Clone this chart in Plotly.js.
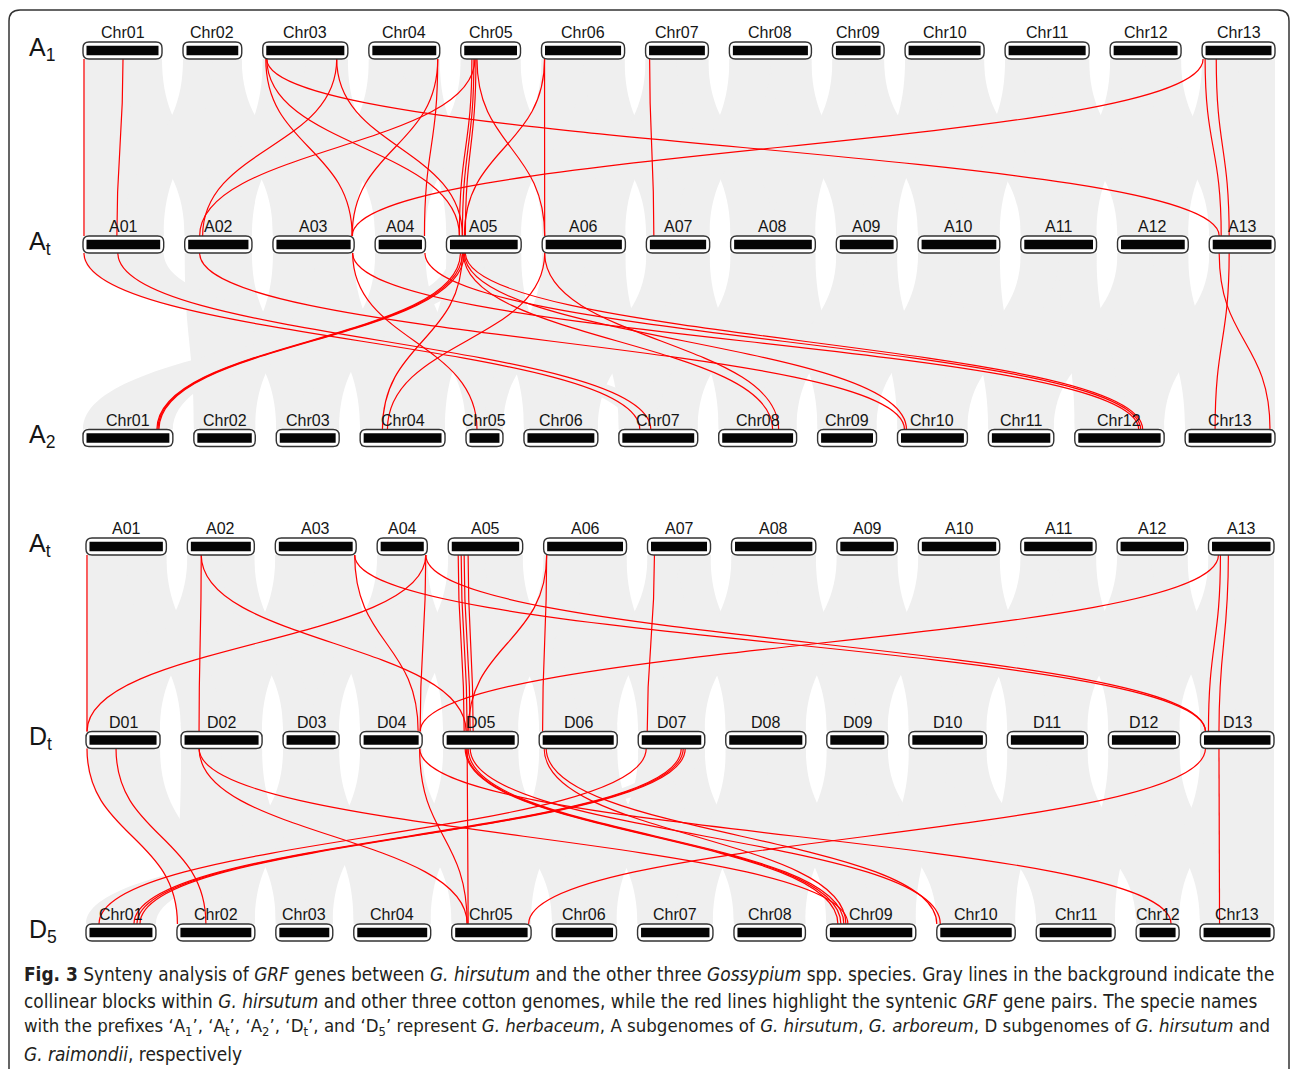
<!DOCTYPE html>
<html>
<head>
<meta charset="utf-8">
<script src="https://cdn.plot.ly/plotly-3.0.1.min.js"></script>
<style>html,body{margin:0;padding:0;background:#fff;}#chart{width:1290px;height:1069px;}</style>
</head>
<body>
<div id="chart"></div>
<script>
// ---------------- DATA ----------------
const chrNamesChr = ['Chr01','Chr02','Chr03','Chr04','Chr05','Chr06','Chr07','Chr08','Chr09','Chr10','Chr11','Chr12','Chr13'];
const chrNamesAt = ['A01','A02','A03','A04','A05','A06','A07','A08','A09','A10','A11','A12','A13'];
const chrNamesDt = ['D01','D02','D03','D04','D05','D06','D07','D08','D09','D10','D11','D12','D13'];

// relative chromosome lengths
const lenA1 = [78, 58, 84, 70, 59, 82, 62, 81, 51, 78, 83, 70, 72];
const lenAt = [81, 67.5, 81.5, 50.5, 75, 83.5, 63.5, 85, 61, 82, 76, 71, 66];
const lenA2 = [90, 61.5, 63, 85, 37, 74, 79, 78, 59, 70, 65.5, 89.5, 90];
const lenDt = [74, 81, 56, 62, 75, 78, 66.5, 80, 61, 77.5, 80, 71, 73.5];
const lenD5 = [70, 78, 57, 77, 79.5, 64.5, 75.5, 71.5, 89.5, 78.5, 79, 43, 74];

const genomeMain = ['A', 'A', 'A', 'A', 'D', 'D'];
const genomeSub = ['1', 't', '2', 't', 't', '5'];

// syntenic GRF gene pairs: [top chr, position on top chr, bottom chr, position on bottom chr]
const linksA1At = [
  [1,1, 1,1], [1,39.5, 1,34], [3,3, 3,79.5], [3,4, 5,13], [3,4, 13,10],
  [3,73, 2,18], [3,73, 5,16], [4,68, 4,49.5], [4,68, 3,79.5], [5,14, 2,15],
  [5,11, 5,13], [5,13, 5,16], [5,15, 5,19], [5,16, 6,2.5], [6,3, 6,2.5],
  [6,3, 5,18], [7,4, 7,7.5], [13,1, 3,79.5], [13,3, 13,12], [13,14, 13,20]
];
const linksAtA2 = [
  [1,1, 7,21], [1,35, 7,32], [2,15, 10,7], [3,80, 5,11], [3,80, 12,64],
  [4,50, 12,66], [5,14, 1,74], [5,16, 1,75], [5,18, 1,76], [5,16, 4,22.3],
  [5,17, 8,54], [5,18, 10,9], [5,19, 12,68], [6,2.5, 4,27.3], [6,2.5, 8,60],
  [13,10, 13,85], [13,20, 13,30]
];
const linksAtDt = [
  [1,1, 1,1], [2,14, 2,18], [2,14, 5,23], [3,80, 13,5], [3,80, 4,58],
  [4,49, 1,1], [4,49, 4,60], [4,49, 13,5], [5,10, 5,21], [5,13, 5,24],
  [5,16, 5,27], [5,20, 5,30], [6,3, 5,25], [6,3, 6,3.4], [7,7, 7,9],
  [13,10, 4,60], [13,12, 13,8], [13,20, 13,18.5]
];
const linksDtD5 = [
  [1,1, 2,0.5], [1,30, 2,29], [2,18, 5,15.5], [2,18, 9,21.5], [4,59.5, 5,15.5],
  [4,59.5, 12,35], [5,24, 5,16.5], [5,22, 9,11.5], [5,23, 9,14.5], [5,25, 9,17.5],
  [5,27, 10,3.5], [6,5, 9,19.5], [6,7, 10,0], [7,8, 1,13], [7,43, 1,48],
  [7,45, 1,51], [7,47, 1,54], [13,5, 5,77], [13,18.5, 13,19.5]
];

// collinear blocks (background): [top chr, from, to, bottom chr, from, to] (fractions of chromosome)
const blocksOrtho = [
  [1,0,1,1,0,1],[2,0,1,2,0,1],[3,0,1,3,0,1],[4,0,1,4,0,1],[5,0,1,5,0,1],[6,0,1,6,0,1],[7,0,1,7,0,1],
  [8,0,1,8,0,1],[9,0,1,9,0,1],[10,0,1,10,0,1],[11,0,1,11,0,1],[12,0,1,12,0,1],[13,0,1,13,0,1]
];
const blocksCross = [
  [1,0.5,1,2,0,0.5],[2,0,0.5,1,0.5,1],[2,0.5,1,3,0,0.5],[3,0,0.5,2,0.5,1],[3,0.5,1,4,0,0.5],[4,0,0.5,3,0.5,1],
  [4,0.5,1,5,0,0.5],[5,0,0.5,4,0.5,1],[5,0.5,1,6,0,0.5],[6,0,0.5,5,0.5,1],[6,0.5,1,7,0,0.5],[7,0,0.5,6,0.5,1],
  [7,0.5,1,8,0,0.5],[8,0,0.5,7,0.5,1],[8,0.5,1,9,0,0.5],[9,0,0.5,8,0.5,1],[9,0.5,1,10,0,0.5],[10,0,0.5,9,0.5,1],
  [10,0.5,1,11,0,0.5],[11,0,0.5,10,0.5,1],[11,0.5,1,12,0,0.5],[12,0,0.5,11,0.5,1],[12,0.5,1,13,0,0.5],[13,0,0.5,12,0.5,1]
];
const blocksAtA2Extra = [[1,0,1,7,0.15,0.55],[5,0.05,0.45,1,0,1]];
const blocksDtD5Extra = [[1,0,1,2,0,0.6],[7,0.5,1,1,0,1]];

// ---------------- LAYOUT ----------------
const W = 1290, H = 1069;
const rowY = [50.5, 244.5, 438, 546.5, 740, 932.5];
const rowSpan = [[83,1275],[83,1275],[83,1275],[86,1274],[86,1274],[86,1274]];
const GAP = 21, BOX_HALF = 8.5, BAR_HALF = 4.8, BAR_INSET = 3.5, RADIUS = 6;

const rowDefs = [
  {names: chrNamesChr, lens: lenA1},
  {names: chrNamesAt, lens: lenAt},
  {names: chrNamesChr, lens: lenA2},
  {names: chrNamesAt, lens: lenAt},
  {names: chrNamesDt, lens: lenDt},
  {names: chrNamesChr, lens: lenD5}
];

const rows = rowDefs.map((r, i) => {
  const total = r.lens.reduce((a, b) => a + b, 0);
  const [x0, x1] = rowSpan[i];
  const scale = (x1 - x0 - GAP * (r.lens.length - 1)) / total;
  let x = x0;
  const starts = [], ends = [];
  r.lens.forEach(L => { starts.push(x); x += L * scale; ends.push(x); x += GAP; });
  return {names: r.names, lens: r.lens, starts, ends, scale, y: rowY[i]};
});

function posAt(row, chr, offset) {
  const R = rows[row];
  return R.starts[chr - 1] + offset * R.scale;
}
function fracAt(row, chr, f) {
  const R = rows[row];
  return R.starts[chr - 1] + f * (R.ends[chr - 1] - R.starts[chr - 1]);
}

const f1 = v => v.toFixed(2);
const shapes = [];
const annotations = [];

const sections = [
  {top: 0, bot: 1, links: linksA1At, blocks: blocksOrtho.concat(blocksCross)},
  {top: 1, bot: 2, links: linksAtA2, blocks: blocksOrtho.slice(1).concat(blocksCross.slice(2), blocksAtA2Extra)},
  {top: 3, bot: 4, links: linksAtDt, blocks: blocksOrtho.concat(blocksCross)},
  {top: 4, bot: 5, links: linksDtD5, blocks: blocksOrtho.slice(1).concat(blocksCross.slice(2), blocksDtD5Extra)}
];

// gray collinear ribbons
sections.forEach(s => {
  const yT = rows[s.top].y + BOX_HALF, yB = rows[s.bot].y - BOX_HALF, ym = (yT + yB) / 2;
  s.blocks.forEach(b => {
    const a0 = fracAt(s.top, b[0], b[1]), a1 = fracAt(s.top, b[0], b[2]);
    const c0 = fracAt(s.bot, b[3], b[4]), c1 = fracAt(s.bot, b[3], b[5]);
    const p = `M${f1(a0)},${f1(yT)} L${f1(a1)},${f1(yT)} C${f1(a1)},${f1(ym)} ${f1(c1)},${f1(ym)} ${f1(c1)},${f1(yB)} L${f1(c0)},${f1(yB)} C${f1(c0)},${f1(ym)} ${f1(a0)},${f1(ym)} ${f1(a0)},${f1(yT)} Z`;
    shapes.push({type: 'path', xref: 'x', yref: 'y', path: p, fillcolor: '#efefef', line: {width: 0}, layer: 'above'});
  });
});

// red GRF links
sections.forEach(s => {
  const yT = rows[s.top].y + BOX_HALF, yB = rows[s.bot].y - BOX_HALF, ym = (yT + yB) / 2;
  s.links.forEach(l => {
    const xa = posAt(s.top, l[0], l[1]);
    const xb = posAt(s.bot, l[2], l[3]);
    const p = `M${f1(xa)},${f1(yT)} C${f1(xa)},${f1(ym)} ${f1(xb)},${f1(ym)} ${f1(xb)},${f1(yB)}`;
    shapes.push({type: 'path', xref: 'x', yref: 'y', path: p, line: {color: '#ff0000', width: 1.2}, layer: 'above'});
  });
});

// chromosome boxes and labels
rows.forEach((R, ri) => {
  R.starts.forEach((x0, ci) => {
    const x1 = R.ends[ci];
    const y0 = R.y - BOX_HALF, y1 = R.y + BOX_HALF, r = RADIUS;
    const p = `M${f1(x0 + r)},${f1(y0)} L${f1(x1 - r)},${f1(y0)} Q${f1(x1)},${f1(y0)} ${f1(x1)},${f1(y0 + r)} L${f1(x1)},${f1(y1 - r)} Q${f1(x1)},${f1(y1)} ${f1(x1 - r)},${f1(y1)} L${f1(x0 + r)},${f1(y1)} Q${f1(x0)},${f1(y1)} ${f1(x0)},${f1(y1 - r)} L${f1(x0)},${f1(y0 + r)} Q${f1(x0)},${f1(y0)} ${f1(x0 + r)},${f1(y0)} Z`;
    shapes.push({type: 'path', xref: 'x', yref: 'y', path: p, fillcolor: '#ffffff', line: {color: '#333333', width: 1.4}, layer: 'above'});
    shapes.push({type: 'rect', xref: 'x', yref: 'y', x0: x0 + BAR_INSET, x1: x1 - BAR_INSET, y0: R.y - BAR_HALF, y1: R.y + BAR_HALF,
      fillcolor: '#050505', line: {width: 0}, layer: 'above'});
    annotations.push({x: (x0 + x1) / 2, y: R.y - 18, xref: 'x', yref: 'y', text: R.names[ci], showarrow: false,
      xanchor: 'center', yanchor: 'middle', font: {family: 'Liberation Sans, Arial, sans-serif', size: 16, color: '#151515'}});
  });
  annotations.push({x: 27, y: R.y - 2, xref: 'x', yref: 'y', text: genomeMain[ri] + '<sub>' + genomeSub[ri] + '</sub>', showarrow: false,
    xanchor: 'left', yanchor: 'middle', font: {family: 'Liberation Sans, Arial, sans-serif', size: 25, color: '#151515'}});
});

// frame
shapes.push({type: 'path', xref: 'x', yref: 'y', path: 'M9,1080 L9,21 Q9,10 20,10 L1278,10 Q1289,10 1289,21 L1289,1080',
  line: {color: '#333333', width: 1.5}, layer: 'above'});

// caption
const captionLines = [
  '<b>Fig. 3</b> Synteny analysis of <i>GRF</i> genes between <i>G. hirsutum</i> and the other three <i>Gossypium</i> spp. species. Gray lines in the background indicate the',
  'collinear blocks within <i>G. hirsutum</i> and other three cotton genomes, while the red lines highlight the syntenic <i>GRF</i> gene pairs. The specie names',
  'with the prefixes \u2018A<sub>1</sub>\u2019, \u2018A<sub>t</sub>\u2019, \u2018A<sub>2</sub>\u2019, \u2018D<sub>t</sub>\u2019, and \u2018D<sub>5</sub>\u2019 represent <i>G. herbaceum</i>, A subgenomes of <i>G. hirsutum</i>, <i>G. arboreum</i>, D subgenomes of <i>G. hirsutum</i> and',
  '<i>G. raimondii</i>, respectively'
];
const captionY = [974, 1001, 1027, 1054];
const captionSize = [18.9, 18.9, 18.5, 18.9];
captionLines.forEach((t, i) => {
  annotations.push({x: 22, y: captionY[i], xref: 'x', yref: 'y', text: t, showarrow: false, xanchor: 'left', yanchor: 'middle',
    font: {family: 'DejaVu Sans Condensed, Liberation Sans Narrow, sans-serif', size: captionSize[i], color: '#231f20'}});
});

const layout = {
  width: W, height: H,
  margin: {l: 0, r: 0, t: 0, b: 0, pad: 0},
  paper_bgcolor: '#ffffff', plot_bgcolor: '#ffffff',
  xaxis: {range: [0, W], visible: false, fixedrange: true},
  yaxis: {range: [H, 0], visible: false, fixedrange: true},
  showlegend: false,
  shapes: shapes,
  annotations: annotations
};

Plotly.newPlot('chart', [], layout, {displayModeBar: false, staticPlot: true});
</script>
</body>
</html>
